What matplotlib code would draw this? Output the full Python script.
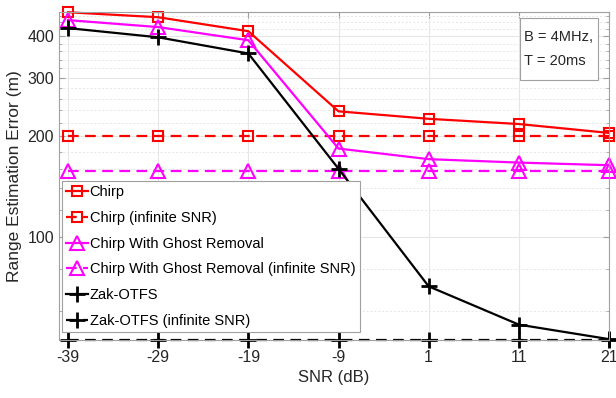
import numpy as np
import matplotlib
matplotlib.use("Agg")
import matplotlib.pyplot as plt
from matplotlib.patches import Rectangle
from matplotlib.ticker import FixedLocator, FixedFormatter, NullFormatter

plt.rcParams['font.family'] = ['Liberation Sans', 'DejaVu Sans']

# data
snr = [-39, -29, -19, -9, 1, 11, 21]
chirp = [472, 456, 414, 238, 226, 218, 205]
chirp_inf = [200, 200, 200, 200, 200, 200, 200]
ghost = [447, 426, 389, 184, 171, 167, 164]
ghost_inf = [158, 158, 158, 158, 158, 158, 158]
zak = [423, 397, 355, 160, 71, 54.5, 49.3]
zak_inf = [49, 49, 49, 49, 49, 49, 49]

fig = plt.figure(figsize=(6.16, 3.98), dpi=100)
ax = fig.add_axes([0.0958, 0.1457, 0.8928, 0.8243])

dash = (0, (4.8, 2.9))
lw = 1.6
ax.plot(snr, chirp, '-', color='#ff0000', lw=lw, marker='s', ms=7.5, mfc='none', mew=1.5,
        label='Chirp', clip_on=False)
ax.plot(snr, chirp_inf, linestyle=dash, color='#ff0000', lw=lw, marker='s', ms=7.5, mfc='none',
        mew=1.5, label='Chirp (infinite SNR)', clip_on=False)
ax.plot(snr, ghost, '-', color='#ff00ff', lw=lw, marker='^', ms=10, mfc='none', mew=1.5,
        label='Chirp With Ghost Removal', clip_on=False)
ax.plot(snr, ghost_inf, linestyle=dash, color='#ff00ff', lw=lw, marker='^', ms=10, mfc='none',
        mew=1.5, label='Chirp With Ghost Removal (infinite SNR)', clip_on=False)
ax.plot(snr, zak, '-', color='black', lw=lw, marker='+', ms=11, mew=2,
        label='Zak-OTFS', clip_on=False)
ax.plot(snr, zak_inf, linestyle=dash, color='black', lw=lw, marker='+', ms=11, mew=2,
        label='Zak-OTFS (infinite SNR)', clip_on=False)

ax.set_yscale('log')
ax.set_xlim(-40, 21)
ax.set_ylim(49, 473)
ax.set_xticks(snr)
ax.set_xticklabels([str(v) for v in snr])
ax.yaxis.set_major_locator(FixedLocator([100, 200, 300, 400]))
ax.yaxis.set_major_formatter(FixedFormatter(['100', '200', '300', '400']))
ax.yaxis.set_minor_locator(FixedLocator([60, 80, 120, 140, 160, 180, 220, 240, 260, 280,
                                         320, 340, 360, 380, 420, 440, 460]))
ax.yaxis.set_minor_formatter(NullFormatter())

ax.grid(True, which='major', color='#e6e6e6', lw=0.8)
ax.grid(True, which='minor', axis='y', color='#e6e6e6', lw=0.7, linestyle=(0, (2, 2)))
ax.set_axisbelow(True)
for s in ax.spines.values():
    s.set_color('#a0a0a0')
    s.set_linewidth(0.8)
ax.tick_params(which='both', direction='in', top=True, right=True, color='#a0a0a0',
               labelsize=11.5, labelcolor='#262626')
ax.tick_params(which='major', length=4)
ax.tick_params(which='minor', length=2)
ax.tick_params(axis='x', pad=7)

ax.set_xlabel('SNR (dB)', fontsize=12, color='#262626')
ax.set_ylabel('Range Estimation Error (m)', fontsize=12.5, color='#262626')

leg = ax.legend(loc='lower left', bbox_to_anchor=(0.0, 0.015), fontsize=10.5,
                handlelength=1.5, handletextpad=0.1, labelspacing=0.8,
                borderpad=0.3, borderaxespad=0.2, fancybox=False, framealpha=1)
leg.get_frame().set_edgecolor('#a0a0a0')
leg.get_frame().set_linewidth(0.8)

# annotation box
ax.add_patch(Rectangle((0.838, 0.793), 0.142, 0.189, transform=ax.transAxes,
                       fc='white', ec='#a0a0a0', lw=0.8, zorder=5))
ax.text(0.909, 0.8875, 'B = 4MHz,\nT = 20ms', transform=ax.transAxes, fontsize=10.5,
        va='center', ha='center', multialignment='left', linespacing=1.9,
        color='#262626', zorder=6)

fig.savefig('out.png', dpi=100)
